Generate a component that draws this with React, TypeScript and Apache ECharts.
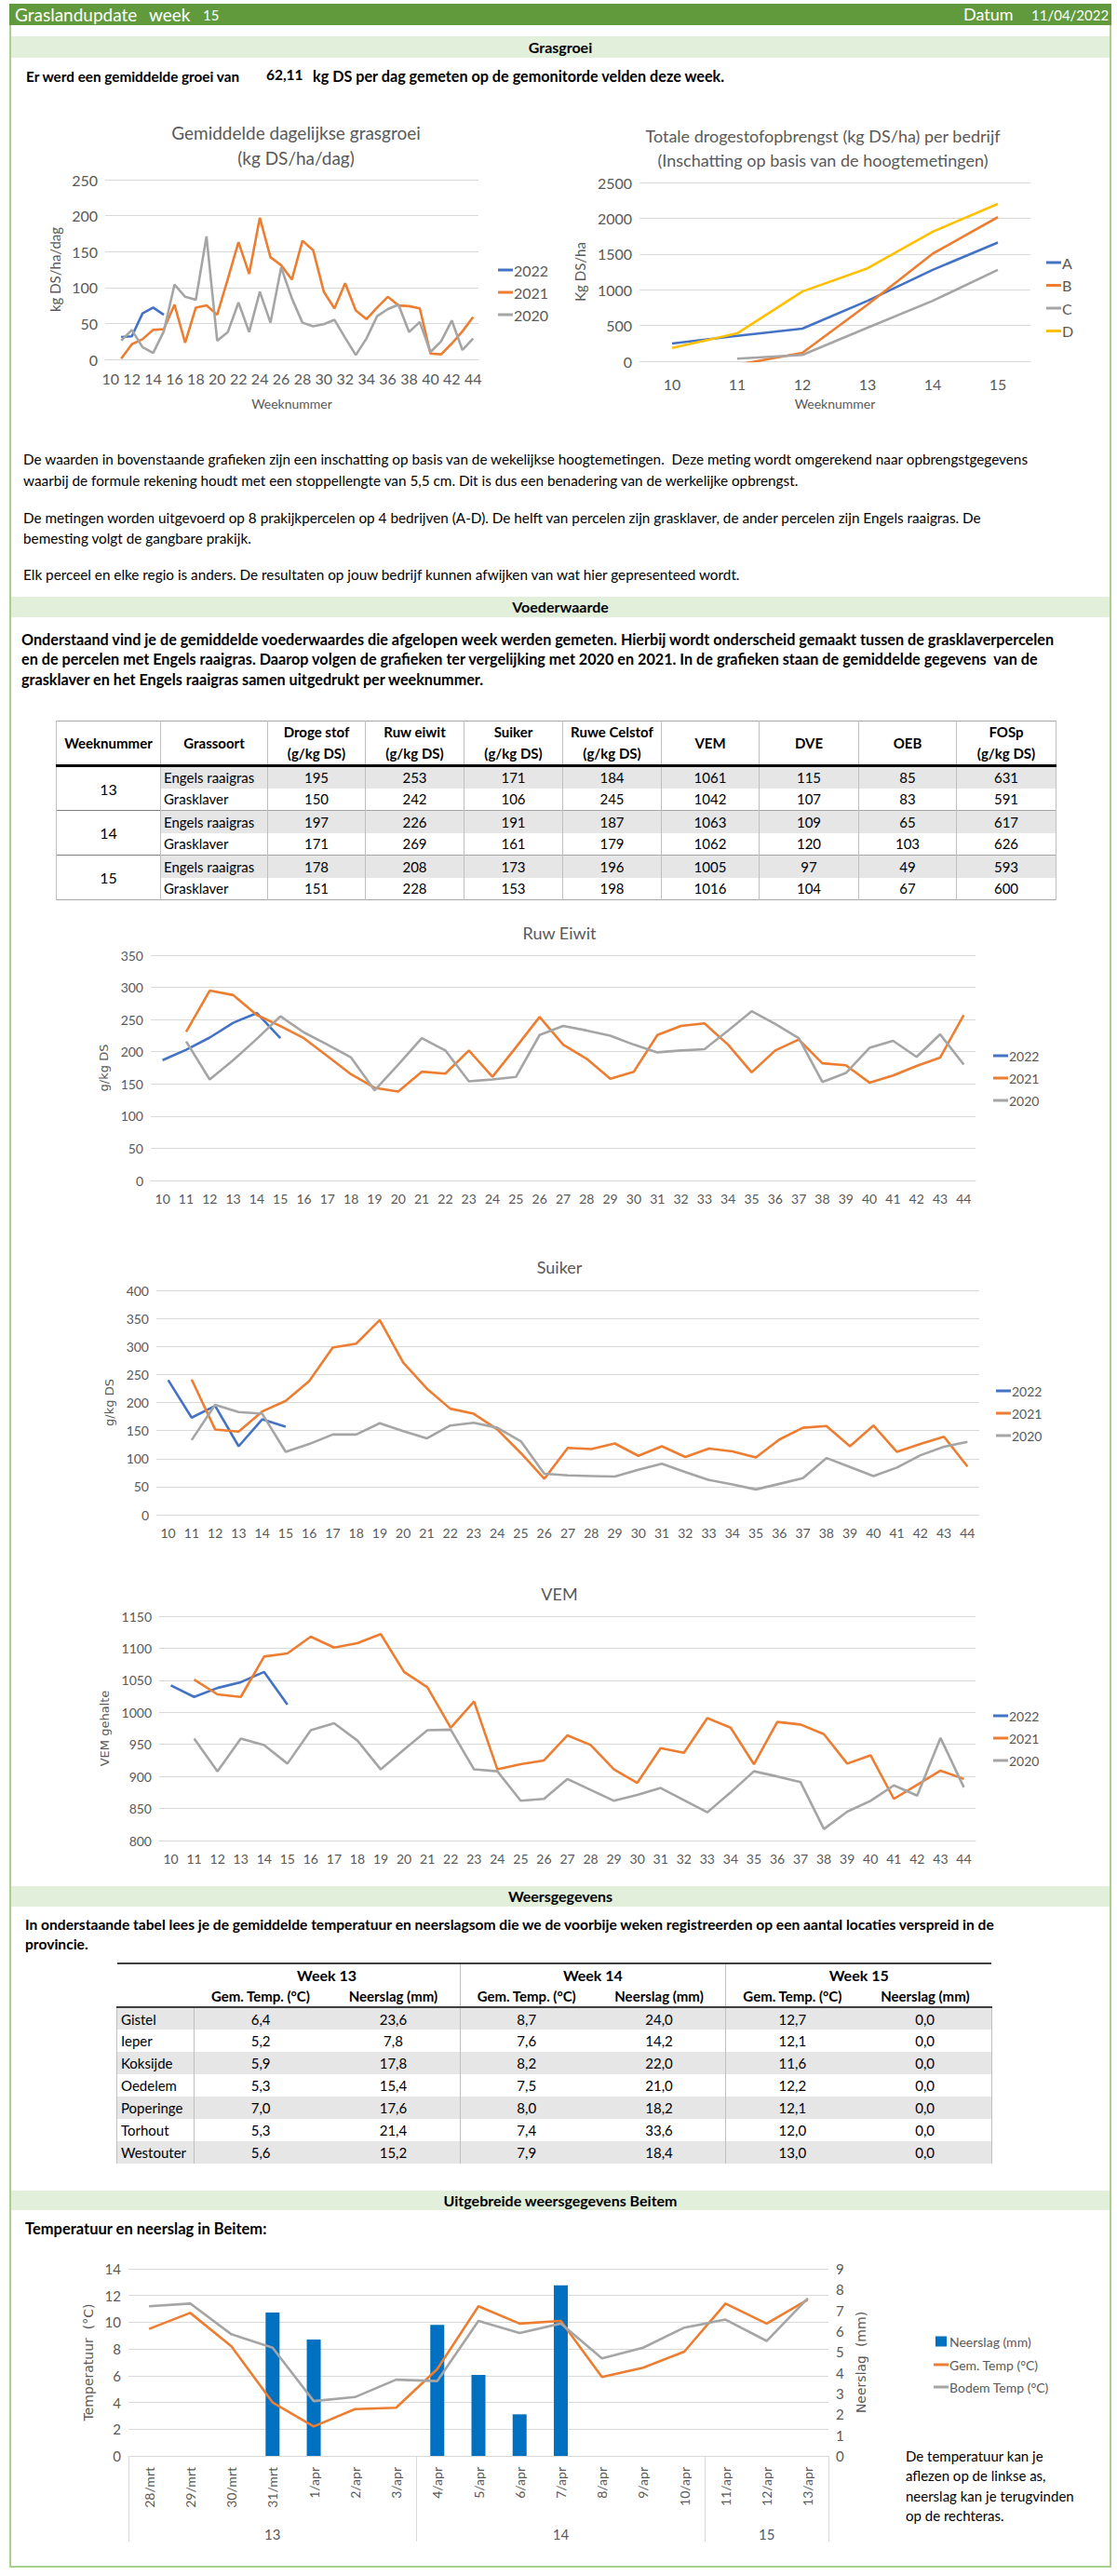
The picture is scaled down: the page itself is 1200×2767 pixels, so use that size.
import React, { useEffect, useRef } from "react";
import * as echarts from "echarts";

const FONT = "Lato, 'Noto Sans', sans-serif";
const C22 = "#4472C4";
const C21 = "#ED7D31";
const C20 = "#A5A5A5";
const CY = "#FFC000";
const TXT = "#595959";
const GRID = "#D9D9D9";
const HEADER_GREEN = "#609A3C";
const FRAME_GREEN = "#A9D08E";
const BAND_GREEN = "#E2EFDA";

// ---------- data ----------
const weekLabels = ["10", "11", "12", "13", "14", "15", "16", "17", "18", "19", "20", "21", "22", "23", "24", "25", "26", "27", "28", "29", "30", "31", "32", "33", "34", "35", "36", "37", "38", "39", "40", "41", "42", "43", "44"];

const groei2022 = [null, 31, 32, 64, 72, 62];
const groei2021 = [null, 1, 21, 28, 41, 42, 76, 23, 72, 75, 62, 112, 163, 119, 197, 142, 131, 111, 165, 152, 94, 71, 106, 68, 56, 72, 87, 75, 74, 71, 8, 7, 22, 39, 59];
const groei2020 = [null, 26, 41, 17, 9, 39, 104, 87, 83, 171, 26, 38, 79, 38, 94, 51, 128, 85, 51, 46, 49, 55, 30, 6, 29, 60, 70, 76, 38, 52, 10, 25, 54, 13, 29];

const dsWeeks = ["10", "11", "12", "13", "14", "15"];
const dsA = [247, 355, 455, 845, 1278, 1660];
const dsB = [null, -50, 117, 790, 1504, 2015];
const dsC = [null, 35, 87, 468, 845, 1278];
const dsD = [186, 390, 975, 1300, 1811, 2201];

const eiwit2022 = [187, 203, 222, 245, 260, 221];
const eiwit2021 = [null, 231, 295, 288, 257, 240, 221, 193, 165, 144, 138, 169, 166, 202, 161, 207, 254, 211, 189, 158, 169, 226, 240, 244, 211, 168, 202, 219, 182, 179, 152, 163, 178, 191, 257];
const eiwit2020 = [null, 216, 157, 187, 220, 255, 230, 211, 191, 140, 180, 221, 202, 154, 157, 161, 226, 240, 233, 225, 211, 199, 202, 204, 233, 263, 243, 221, 153, 167, 206, 217, 192, 227, 180];

const suiker2022 = [240, 173, 194, 122, 170, 157];
const suiker2021 = [null, 241, 152, 148, 184, 203, 238, 298, 305, 347, 271, 225, 189, 180, 152, 110, 64, 119, 117, 127, 105, 122, 103, 118, 113, 102, 134, 155, 158, 122, 159, 112, 126, 139, 86];
const suiker2020 = [null, 133, 196, 183, 180, 112, 126, 143, 143, 163, 149, 136, 159, 164, 155, 131, 73, 70, 69, 68, 80, 91, 76, 62, 54, 45, 55, 65, 101, 85, 69, 84, 106, 121, 130];

const vem2022 = [1042, 1024, 1038, 1047, 1063, 1012];
const vem2021 = [null, 1051, 1028, 1024, 1087, 1092, 1118, 1101, 1108, 1122, 1063, 1039, 976, 1017, 911, 919, 925, 964, 949, 911, 890, 944, 937, 991, 976, 919, 985, 981, 966, 920, 933, 865, 887, 909, 896];
const vem2020 = [null, 959, 908, 959, 949, 920, 972, 983, 956, 911, 942, 972, 973, 911, 908, 862, 865, 896, 879, 862, 871, 882, 863, 844, 875, 908, 900, 891, 818, 845, 862, 886, 870, 960, 883];

const beitemDays = ["28/mrt", "29/mrt", "30/mrt", "31/mrt", "1/apr", "2/apr", "3/apr", "4/apr", "5/apr", "6/apr", "7/apr", "8/apr", "9/apr", "10/apr", "11/apr", "12/apr", "13/apr"];
const beitemWeek = ["13", "13", "13", "13", "13", "13", "13", "14", "14", "14", "14", "14", "14", "14", "15", "15", "15"];
const neerslag = [0, 0, 0, 6.9, 5.6, 0, 0, 6.3, 3.9, 2.0, 8.2, 0, 0, 0, 0, 0, 0];
const gemTemp = [9.5, 10.7, 8.2, 4.0, 2.2, 3.5, 3.6, 6.5, 11.2, 9.9, 10.1, 5.9, 6.6, 7.8, 11.4, 9.9, 11.7];
const bodemTemp = [11.2, 11.4, 9.1, 8.1, 4.1, 4.4, 5.7, 5.6, 10.1, 9.2, 9.9, 7.3, 8.1, 9.6, 10.2, 8.6, 11.8];

const vwHeaders = [["Weeknummer"], ["Grassoort"], ["Droge stof", "(g/kg DS)"], ["Ruw eiwit", "(g/kg DS)"], ["Suiker", "(g/kg DS)"], ["Ruwe Celstof", "(g/kg DS)"], ["VEM"], ["DVE"], ["OEB"], ["FOSp", "(g/kg DS)"]];
const vwWeeks = ["13", "14", "15"];
const vwSoorten = ["Engels raaigras", "Grasklaver"];
const vwEngels = [
  [195, 253, 171, 184, 1061, 115, 85, 631],
  [197, 226, 191, 187, 1063, 109, 65, 617],
  [178, 208, 173, 196, 1005, 97, 49, 593],
];
const vwKlaver = [
  [150, 242, 106, 245, 1042, 107, 83, 591],
  [171, 269, 161, 179, 1062, 120, 103, 626],
  [151, 228, 153, 198, 1016, 104, 67, 600],
];

const weerWeken = ["Week 13", "Week 14", "Week 15"];
const locaties = ["Gistel", "Ieper", "Koksijde", "Oedelem", "Poperinge", "Torhout", "Westouter"];
const temp13 = ["6,4", "5,2", "5,9", "5,3", "7,0", "5,3", "5,6"];
const regen13 = ["23,6", "7,8", "17,8", "15,4", "17,6", "21,4", "15,2"];
const temp14 = ["8,7", "7,6", "8,2", "7,5", "8,0", "7,4", "7,9"];
const regen14 = ["24,0", "14,2", "22,0", "21,0", "18,2", "33,6", "18,4"];
const temp15 = ["12,7", "12,1", "11,6", "12,2", "12,1", "12,0", "13,0"];
const regen15 = ["0,0", "0,0", "0,0", "0,0", "0,0", "0,0", "0,0"];

// ---------- chart helpers ----------
function EChart({ option, style }: { option: any; style: any }) {
  const ref = useRef<HTMLDivElement>(null);
  useEffect(() => {
    const chart = echarts.init(ref.current as HTMLDivElement, null, { renderer: "svg" });
    chart.setOption(option);
    return () => chart.dispose();
  }, []);
  return <div ref={ref} style={{ position: "absolute", ...style }} />;
}

const plain = (v: number) => String(v);

function lineSeries(name: string, data: any[], color: string, extra: any = {}) {
  return {
    name,
    type: "line",
    data,
    symbol: "none",
    showSymbol: false,
    connectNulls: false,
    lineStyle: { color, width: 2.6 },
    itemStyle: { color },
    ...extra,
  };
}

function weeklyOption(cfg: any) {
  return {
    animation: false,
    textStyle: { fontFamily: FONT },
    title: {
      text: cfg.title,
      left: "center",
      top: cfg.titleTop,
      textStyle: { fontFamily: FONT, fontSize: 18, fontWeight: "normal", color: TXT },
    },
    legend: {
      orient: "vertical",
      left: cfg.legendLeft,
      top: cfg.legendTop,
      icon: "rect",
      itemWidth: 16,
      itemHeight: 3,
      itemGap: 8,
      data: ["2022", "2021", "2020"],
      textStyle: { fontFamily: FONT, fontSize: 14, color: TXT, lineHeight: 16, padding: [0, 0, 0, -4] },
    },
    grid: cfg.grid,
    xAxis: {
      type: "category",
      data: weekLabels,
      boundaryGap: true,
      axisLine: { lineStyle: { color: GRID } },
      axisTick: { show: false },
      axisLabel: { color: TXT, fontSize: 14, interval: 0, margin: 12, fontFamily: FONT },
    },
    yAxis: {
      type: "value",
      min: cfg.min,
      max: cfg.max,
      interval: 50,
      name: cfg.yName,
      nameLocation: "middle",
      nameGap: cfg.nameGap,
      nameTextStyle: { color: TXT, fontSize: 13, fontFamily: "'DejaVu Sans', sans-serif" },
      axisLabel: { color: TXT, fontSize: 14, fontFamily: FONT, formatter: plain },
      axisLine: { show: false },
      axisTick: { show: false },
      splitLine: { lineStyle: { color: GRID } },
    },
    series: [
      lineSeries("2022", cfg.s22, C22),
      lineSeries("2021", cfg.s21, C21),
      lineSeries("2020", cfg.s20, C20),
    ],
  };
}

const groeiOption = {
  animation: false,
  textStyle: { fontFamily: FONT },
  title: {
    text: "Gemiddelde dagelijkse grasgroei\n(kg DS/ha/dag)",
    left: 301,
    top: 24,
    textAlign: "center",
    textStyle: { fontFamily: FONT, fontSize: 19, fontWeight: "normal", color: TXT, lineHeight: 27 },
  },
  legend: {
    orient: "vertical",
    left: 518,
    top: 176,
    icon: "rect",
    itemWidth: 16,
    itemHeight: 3,
    itemGap: 6,
    data: ["2022", "2021", "2020"],
    textStyle: { fontFamily: FONT, fontSize: 16, color: TXT, lineHeight: 18, padding: [0, 0, 0, -4] },
  },
  grid: { left: 101, right: 86, top: 93, bottom: 59 },
  xAxis: {
    type: "category",
    data: weekLabels,
    boundaryGap: true,
    name: "Weeknummer",
    nameLocation: "middle",
    nameGap: 40,
    nameTextStyle: { color: TXT, fontSize: 14, fontFamily: FONT },
    axisLine: { lineStyle: { color: GRID } },
    axisTick: { show: false },
    axisLabel: { color: TXT, fontSize: 16, interval: 1, margin: 12, fontFamily: FONT },
  },
  yAxis: {
    type: "value",
    min: 0,
    max: 250,
    interval: 50,
    name: "kg DS/ha/dag",
    nameLocation: "middle",
    nameGap: 44,
    nameTextStyle: { color: TXT, fontSize: 15, fontFamily: FONT },
    axisLabel: { color: TXT, fontSize: 16, fontFamily: FONT, formatter: plain },
    axisLine: { show: false },
    splitLine: { lineStyle: { color: GRID } },
  },
  series: [
    lineSeries("2022", groei2022, C22),
    lineSeries("2021", groei2021, C21),
    lineSeries("2020", groei2020, C20),
  ],
};

const dsOption = {
  animation: false,
  textStyle: { fontFamily: FONT },
  title: {
    text: "Totale drogestofopbrengst (kg DS/ha) per bedrijf\n(Inschatting op basis van de hoogtemetingen)",
    left: 279,
    top: 28,
    textAlign: "center",
    textStyle: { fontFamily: FONT, fontSize: 18, fontWeight: "normal", color: TXT, lineHeight: 26 },
  },
  legend: {
    orient: "vertical",
    left: 519,
    top: 168,
    icon: "rect",
    itemWidth: 16,
    itemHeight: 3,
    itemGap: 6.5,
    data: ["A", "B", "C", "D"],
    textStyle: { fontFamily: FONT, fontSize: 16, color: TXT, lineHeight: 18, padding: [0, 0, 0, -4] },
  },
  grid: { left: 87, right: 83, top: 96, bottom: 57 },
  xAxis: {
    type: "category",
    data: dsWeeks,
    boundaryGap: true,
    name: "Weeknummer",
    nameLocation: "middle",
    nameGap: 38,
    nameTextStyle: { color: TXT, fontSize: 14, fontFamily: FONT },
    axisLine: { lineStyle: { color: GRID } },
    axisTick: { show: false },
    axisLabel: { color: TXT, fontSize: 16, margin: 16, fontFamily: FONT },
  },
  yAxis: {
    type: "value",
    min: 0,
    max: 2500,
    interval: 500,
    name: "Kg DS/ha",
    nameLocation: "middle",
    nameGap: 55,
    nameTextStyle: { color: TXT, fontSize: 15, fontFamily: FONT },
    axisLabel: { color: TXT, fontSize: 16, fontFamily: FONT, formatter: plain },
    axisLine: { show: false },
    splitLine: { lineStyle: { color: GRID } },
  },
  series: [
    lineSeries("A", dsA, C22),
    lineSeries("B", dsB, C21),
    lineSeries("C", dsC, C20),
    lineSeries("D", dsD, CY),
  ],
};

const eiwitOption = weeklyOption({
  title: "Ruw Eiwit",
  titleTop: 8,
  legendLeft: 1050,
  legendTop: 141,
  grid: { left: 150, right: 142, top: 46, bottom: 37 },
  min: 0,
  max: 350,
  yName: "g/kg DS",
  nameGap: 44,
  s22: eiwit2022,
  s21: eiwit2021,
  s20: eiwit2020,
});

const suikerOption = weeklyOption({
  title: "Suiker",
  titleTop: 27,
  legendLeft: 1053,
  legendTop: 161,
  grid: { left: 156, right: 138, top: 66, bottom: 33 },
  min: 0,
  max: 400,
  yName: "g/kg DS",
  nameGap: 44,
  s22: suiker2022,
  s21: suiker2021,
  s20: suiker2020,
});

const vemOption = weeklyOption({
  title: "VEM",
  titleTop: 18,
  legendLeft: 1050,
  legendTop: 150,
  grid: { left: 159, right: 142, top: 56, bottom: 43 },
  min: 800,
  max: 1150,
  yName: "VEM gehalte",
  nameGap: 52,
  s22: vem2022,
  s21: vem2021,
  s20: vem2020,
});

// week grouping for the Beitem axis
const weekStarts: number[] = [];
const weekCenters: number[] = [];
{
  let start = 0;
  for (let i = 1; i <= beitemWeek.length; i++) {
    if (i === beitemWeek.length || beitemWeek[i] !== beitemWeek[start]) {
      weekStarts.push(start);
      weekCenters.push(Math.round(start + (i - 1 - start) / 2));
      start = i;
    }
  }
}

const legendText = { fontFamily: FONT, fontSize: 14, color: TXT, lineHeight: 16, padding: [0, 0, 0, -2] };

const beitemOption = {
  animation: false,
  textStyle: { fontFamily: FONT },
  legend: [
    {
      orient: "vertical",
      left: 988,
      top: 102,
      icon: "rect",
      itemWidth: 12,
      itemHeight: 11,
      data: ["Neerslag (mm)"],
      textStyle: legendText,
    },
    {
      orient: "vertical",
      left: 986,
      top: 127,
      icon: "rect",
      itemWidth: 16,
      itemHeight: 3,
      itemGap: 8,
      data: ["Gem. Temp (°C)", "Bodem Temp (°C)"],
      textStyle: { ...legendText, padding: [0, 0, 0, -4] },
    },
  ],
  grid: { left: 126, right: 300, top: 37, bottom: 112 },
  xAxis: [
    {
      type: "category",
      data: beitemDays,
      axisLine: { lineStyle: { color: GRID } },
      axisTick: { show: false },
      axisLabel: { rotate: 90, color: TXT, fontSize: 14, interval: 0, margin: 12, fontFamily: FONT },
    },
    {
      type: "category",
      data: beitemDays,
      position: "bottom",
      axisLine: { show: false },
      axisTick: {
        show: true,
        length: 92,
        interval: (i: number) => weekStarts.includes(i),
        lineStyle: { color: GRID },
      },
      axisLabel: {
        interval: (i: number) => weekCenters.includes(i),
        formatter: (_v: string, i: number) => beitemWeek[i],
        margin: 76,
        color: TXT,
        fontSize: 15,
        fontFamily: FONT,
      },
      splitLine: { show: false },
    },
  ],
  yAxis: [
    {
      type: "value",
      min: 0,
      max: 14,
      interval: 2,
      name: "Temperatuur  (°C)",
      nameLocation: "middle",
      nameRotate: 90,
      nameGap: 36,
      nameTextStyle: { color: TXT, fontSize: 14, fontFamily: "'DejaVu Sans', sans-serif" },
      axisLabel: { color: TXT, fontSize: 15, fontFamily: FONT },
      axisLine: { show: false },
      splitLine: { lineStyle: { color: GRID } },
    },
    {
      type: "value",
      min: 0,
      max: 9,
      interval: 1,
      position: "right",
      name: "Neerslag  (mm)",
      nameLocation: "middle",
      nameRotate: 90,
      nameGap: 28,
      nameTextStyle: { color: TXT, fontSize: 14, fontFamily: "'DejaVu Sans', sans-serif" },
      axisLabel: { color: TXT, fontSize: 15, fontFamily: FONT },
      axisLine: { show: false },
      splitLine: { show: false },
    },
  ],
  series: [
    {
      name: "Neerslag (mm)",
      type: "bar",
      yAxisIndex: 1,
      data: neerslag,
      barWidth: 15,
      itemStyle: { color: "#0070C0" },
    },
    lineSeries("Gem. Temp (°C)", gemTemp, C21, { yAxisIndex: 0 }),
    lineSeries("Bodem Temp (°C)", bodemTemp, C20, { yAxisIndex: 0 }),
  ],
};

// ---------- text helpers ----------
function T({ x, y, size = 15, bold = false, color = "#000", children, lh = 20, extra = {} }: any) {
  return (
    <div
      style={{
        position: "absolute",
        left: x,
        top: y - lh / 2,
        lineHeight: lh + "px",
        height: lh,
        fontSize: size,
        fontWeight: bold ? 700 : 400,
        color,
        fontFamily: FONT,
        whiteSpace: "pre",
        ...extra,
      }}
    >
      {children}
    </div>
  );
}

function Band({ top, height, label }: any) {
  return (
    <div
      style={{
        position: "absolute",
        left: 12,
        top,
        width: 1180,
        height,
        background: BAND_GREEN,
        fontFamily: FONT,
        fontWeight: 700,
        fontSize: 16,
        lineHeight: height + "px",
        textAlign: "center",
        color: "#000",
      }}
    >
      {label}
    </div>
  );
}

function VoederTable() {
  const widths = [112, 115, 105, 106, 106, 106, 105, 107, 105, 107];
  const cellBase: any = { padding: 0, borderLeft: "1px solid #BFBFBF", borderRight: "1px solid #BFBFBF", textAlign: "center" };
  return (
    <table
      style={{
        position: "absolute",
        left: 60,
        top: 774,
        width: 1075,
        borderCollapse: "collapse",
        tableLayout: "fixed",
        fontFamily: FONT,
        fontSize: 15,
        color: "#000",
        borderTop: "1px solid #A6A6A6",
        borderBottom: "1px solid #A6A6A6",
      }}
    >
      <colgroup>
        {widths.map((w, i) => (
          <col key={i} style={{ width: w }} />
        ))}
      </colgroup>
      <thead>
        <tr style={{ height: 48 }}>
          {vwHeaders.map((h, i) => (
            <th key={i} style={{ ...cellBase, fontWeight: 700, fontSize: 15, lineHeight: "23px", borderBottom: "3px solid #000" }}>
              {h.map((l, j) => (
                <div key={j}>{l}</div>
              ))}
            </th>
          ))}
        </tr>
      </thead>
      <tbody>
        {vwWeeks.map((wk, wi) =>
          vwSoorten.map((soort, si) => {
            const vals = si === 0 ? vwEngels[wi] : vwKlaver[wi];
            const bg = si === 0 ? "#E7E6E6" : "#FFFFFF";
            const topB = si === 0 && wi > 0 ? "1px solid #A6A6A6" : "none";
            return (
              <tr key={wk + soort} style={{ height: 24 }}>
                {si === 0 && (
                  <td rowSpan={2} style={{ ...cellBase, background: "#FFF", borderTop: wi > 0 ? "1px solid #7F7F7F" : "none", fontSize: 16 }}>
                    {wk}
                  </td>
                )}
                <td style={{ ...cellBase, textAlign: "left", paddingLeft: 3, background: bg, borderTop: topB }}>{soort}</td>
                {vals.map((v, k) => (
                  <td key={k} style={{ ...cellBase, background: bg, borderTop: topB }}>
                    {v}
                  </td>
                ))}
              </tr>
            );
          })
        )}
      </tbody>
    </table>
  );
}

function WeerTable() {
  const sep = "1px solid #BFBFBF";
  const thick = "2px solid #3F3F3F";
  const cols = [temp13, regen13, temp14, regen14, temp15, regen15];
  return (
    <table
      style={{
        position: "absolute",
        left: 125,
        top: 2108,
        width: 940,
        borderCollapse: "collapse",
        tableLayout: "fixed",
        fontFamily: FONT,
        fontSize: 15,
        color: "#000",
        borderTop: thick,
      }}
    >
      <colgroup>
        <col style={{ width: 83 }} />
        {cols.map((_, i) => (
          <col key={i} style={{ width: 142.8 }} />
        ))}
      </colgroup>
      <thead>
        <tr style={{ height: 24 }}>
          <th style={{ padding: 0 }} />
          {weerWeken.map((w, i) => (
            <th key={i} colSpan={2} style={{ padding: 0, fontWeight: 700, fontSize: 16, borderLeft: i > 0 ? sep : "none" }}>
              {w}
            </th>
          ))}
        </tr>
        <tr style={{ height: 23 }}>
          <th style={{ padding: 0, borderBottom: thick }} />
          {cols.map((_, i) => (
            <th key={i} style={{ padding: 0, fontWeight: 700, fontSize: 15, borderBottom: thick, borderLeft: i > 0 && i % 2 === 0 ? sep : "none" }}>
              {i % 2 === 0 ? "Gem. Temp. (°C)" : "Neerslag (mm)"}
            </th>
          ))}
        </tr>
      </thead>
      <tbody>
        {locaties.map((loc, r) => (
          <tr key={loc} style={{ height: 24, background: r % 2 === 0 ? "#E7E6E6" : "#FFF" }}>
            <td style={{ padding: "0 0 0 4px", borderLeft: sep, borderRight: sep }}>{loc}</td>
            {cols.map((c, i) => (
              <td
                key={i}
                style={{
                  padding: 0,
                  textAlign: "center",
                  borderLeft: i % 2 === 0 ? sep : "none",
                  borderRight: i === cols.length - 1 ? sep : "none",
                }}
              >
                {c[r]}
              </td>
            ))}
          </tr>
        ))}
      </tbody>
    </table>
  );
}

export default function App() {
  return (
    <div style={{ position: "absolute", left: 0, top: 0, width: 1200, height: 2767, background: "#FFF", overflow: "hidden" }}>
      {/* frame */}
      <div style={{ position: "absolute", left: 10, top: 4, width: 1184, height: 2754, border: `2px solid ${FRAME_GREEN}`, boxSizing: "border-box" }} />
      {/* header */}
      <div style={{ position: "absolute", left: 10, top: 4, width: 1184, height: 23, background: HEADER_GREEN }} />
      <T x={16} y={15} size={19} color="#FFF" lh={23}>Graslandupdate</T>
      <T x={160} y={15} size={19} color="#FFF" lh={23}>week</T>
      <T x={218} y={16} size={15} color="#FFF" lh={23}>15</T>
      <T x={1035} y={15} size={18} color="#FFF" lh={23}>Datum</T>
      <T x={1108} y={16} size={15} color="#FFF" lh={23}>11/04/2022</T>

      <Band top={39} height={23} label="Grasgroei" />
      <T x={28} y={82} size={15.3} bold>Er werd een gemiddelde groei van</T>
      <T x={286} y={80} size={15.5} bold>62,11</T>
      <T x={336} y={82} size={16.2} bold>kg DS per dag gemeten op de gemonitorde velden deze week.</T>

      <EChart option={groeiOption} style={{ left: 12, top: 100, width: 588, height: 345 }} />
      <EChart option={dsOption} style={{ left: 600, top: 100, width: 590, height: 345 }} />

      <T x={25} y={493} size={15.3}>De waarden in bovenstaande grafieken zijn een inschatting op basis van de wekelijkse hoogtemetingen.  Deze meting wordt omgerekend naar opbrengstgegevens</T>
      <T x={25} y={516} size={15.3}>waarbij de formule rekening houdt met een stoppellengte van 5,5 cm. Dit is dus een benadering van de werkelijke opbrengst.</T>
      <T x={25} y={556} size={15.3}>De metingen worden uitgevoerd op 8 prakijkpercelen op 4 bedrijven (A-D). De helft van percelen zijn grasklaver, de ander percelen zijn Engels raaigras. De</T>
      <T x={25} y={578} size={15.3}>bemesting volgt de gangbare prakijk.</T>
      <T x={25} y={617} size={15.3}>Elk perceel en elke regio is anders. De resultaten op jouw bedrijf kunnen afwijken van wat hier gepresenteed wordt.</T>

      <Band top={641} height={22} label="Voederwaarde" />
      <T x={23} y={687} size={16.2} bold>Onderstaand vind je de gemiddelde voederwaardes die afgelopen week werden gemeten. Hierbij wordt onderscheid gemaakt tussen de grasklaverpercelen</T>
      <T x={23} y={708} size={16.2} bold>en de percelen met Engels raaigras. Daarop volgen de grafieken ter vergelijking met 2020 en 2021. In de grafieken staan de gemiddelde gegevens  van de</T>
      <T x={23} y={730} size={16.2} bold>grasklaver en het Engels raaigras samen uitgedrukt per weeknummer.</T>

      <VoederTable />

      <EChart option={eiwitOption} style={{ left: 12, top: 980, width: 1178, height: 325 }} />
      <EChart option={suikerOption} style={{ left: 12, top: 1320, width: 1178, height: 340 }} />
      <EChart option={vemOption} style={{ left: 12, top: 1680, width: 1178, height: 340 }} />

      <Band top={2026} height={22} label="Weersgegevens" />
      <T x={27} y={2067} size={15.6} bold>In onderstaande tabel lees je de gemiddelde temperatuur en neerslagsom die we de voorbije weken registreerden op een aantal locaties verspreid in de</T>
      <T x={27} y={2088} size={15.6} bold>provincie.</T>

      <WeerTable />

      <Band top={2353} height={21} label="Uitgebreide weersgegevens Beitem" />
      <T x={27} y={2394} size={16.5} bold>Temperatuur en neerslag in Beitem:</T>

      <EChart option={beitemOption} style={{ left: 12, top: 2400, width: 1178, height: 350 }} />

      <T x={973} y={2638} size={15}>De temperatuur kan je</T>
      <T x={973} y={2659} size={15}>aflezen op de linkse as,</T>
      <T x={973} y={2681} size={15}>neerslag kan je terugvinden</T>
      <T x={973} y={2702} size={15}>op de rechteras.</T>
    </div>
  );
}
